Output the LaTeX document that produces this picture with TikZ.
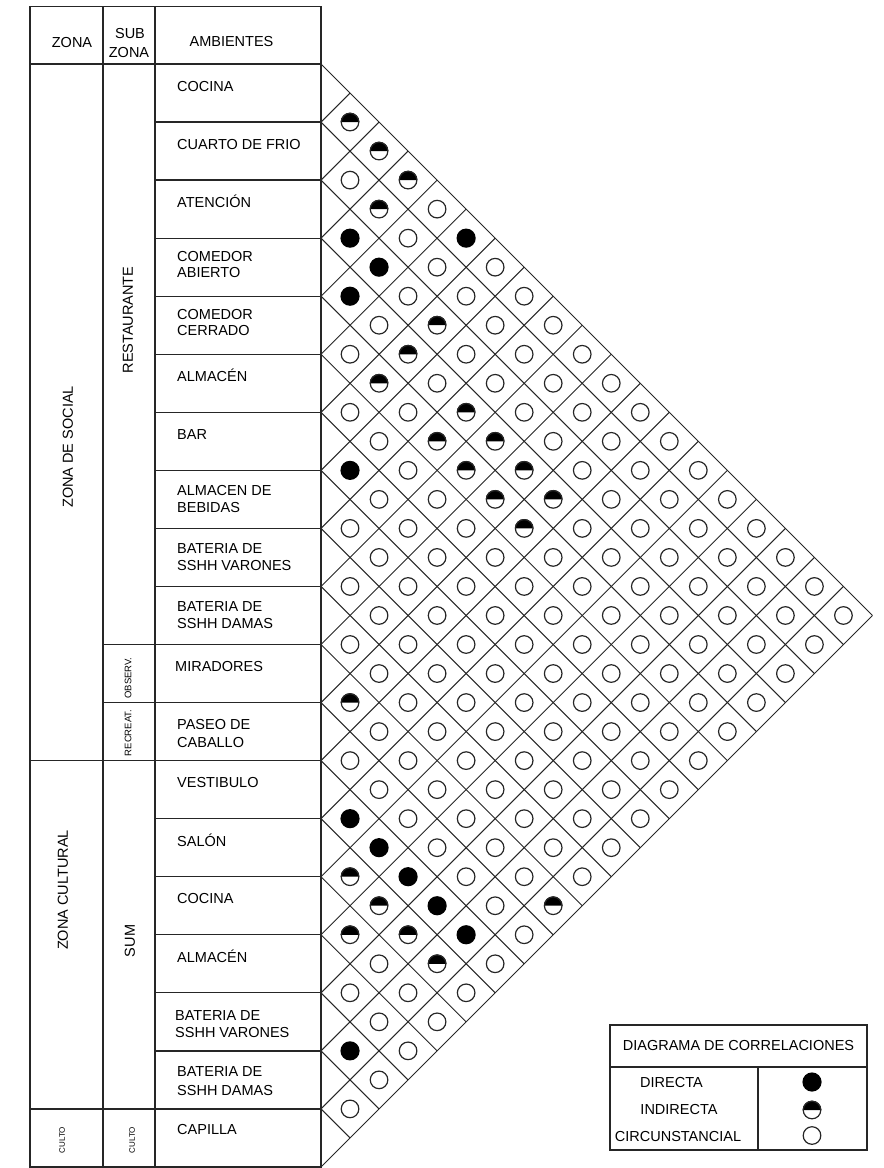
\documentclass[tikz,border=0pt]{standalone}
\usepackage{fontspec}
\setmainfont{Liberation Sans}
\def\defsym#1#2#3{\expandafter\def\csname sym-#1-#2\endcsname{#3}}
\def\symO(#1){\draw[symline] (#1) circle[radius=8.8pt];}
\def\symF(#1){\fill (#1) circle[radius=9.6pt];}
\def\symH(#1){\fill (#1) ++(-9.4pt,0pt) arc[start angle=180,end angle=0,radius=9.4pt] -- cycle; \draw[symline] (#1) circle[radius=8.8pt];}
% exceptions (row i, row j, symbol)
\defsym{0}{1}{\symH}\defsym{0}{2}{\symH}\defsym{0}{3}{\symH}\defsym{1}{3}{\symH}
\defsym{2}{3}{\symF}\defsym{0}{5}{\symF}\defsym{2}{4}{\symF}\defsym{3}{4}{\symF}
\defsym{2}{6}{\symH}\defsym{3}{6}{\symH}\defsym{4}{6}{\symH}\defsym{3}{8}{\symH}
\defsym{4}{8}{\symH}\defsym{3}{9}{\symH}\defsym{6}{7}{\symF}\defsym{4}{9}{\symH}
\defsym{3}{10}{\symH}\defsym{4}{10}{\symH}\defsym{3}{11}{\symH}\defsym{4}{11}{\symH}
\defsym{10}{11}{\symH}\defsym{12}{13}{\symF}\defsym{12}{14}{\symF}\defsym{13}{14}{\symH}
\defsym{12}{15}{\symF}\defsym{13}{15}{\symH}\defsym{12}{16}{\symF}\defsym{10}{18}{\symH}
\defsym{14}{15}{\symH}\defsym{13}{16}{\symH}\defsym{12}{17}{\symF}\defsym{13}{17}{\symH}
\defsym{16}{17}{\symF}
\begin{document}
\begin{tikzpicture}[x=1pt,y=-1pt,
  tline/.style={line width=1.3pt, draw=black!85},
  gline/.style={line width=1pt, draw=black!85},
  symline/.style={line width=1.2pt, draw=black!85},
  lbl/.style={anchor=base west, inner sep=0pt, font=\fontsize{14.5}{17}\selectfont},
  ctr/.style={anchor=base, inner sep=0pt, font=\fontsize{14.5}{17}\selectfont},
  vtxt/.style={rotate=90, inner sep=0pt, font=\fontsize{14.5}{17}\selectfont},
  small/.style={rotate=90, inner sep=0pt, font=\fontsize{9.5}{11}\selectfont},
  tiny/.style={rotate=90, inner sep=0pt, font=\fontsize{8}{9}\selectfont}]
\useasboundingbox (0,0) rectangle (884,1168);
\def\h{58.05}\def\Y{64}\def\X{321}
% ---------- table frame ----------
\draw[tline] (30,6.5) rectangle (\X,1167);
\draw[tline] (103,6.5) -- (103,1167);
\draw[tline] (155,6.5) -- (155,1167);
\draw[tline] (30,\Y) -- (\X,\Y);
\foreach \k in {1,...,9,13,14,15,16,17}
  \draw[tline] (155,\Y+\k*\h) -- (\X,\Y+\k*\h);
\foreach \k in {10,11}
  \draw[tline] (103,\Y+\k*\h) -- (\X,\Y+\k*\h);
\foreach \k in {12,18}
  \draw[tline] (30,\Y+\k*\h) -- (\X,\Y+\k*\h);
% ---------- correlation grid ----------
\foreach \k in {0,...,19}{
  \draw[gline] (\X,\Y+\k*\h) -- (\X+19*\h/2-\k*\h/2, \Y+19*\h/2+\k*\h/2);
  \draw[gline] (\X,\Y+\k*\h) -- (\X+\k*\h/2, \Y+\k*\h/2);
}
% ---------- symbols ----------
\foreach \i in {0,...,17}{
  \pgfmathtruncatemacro\js{\i+1}
  \foreach \j in {\js,...,18}{
    \pgfmathsetmacro\cx{\X+(\j-\i)*\h/2}
    \pgfmathsetmacro\cy{\Y+(\i+\j+1)*\h/2}
    \ifcsname sym-\i-\j\endcsname
      \csname sym-\i-\j\endcsname(\cx,\cy)
    \else
      \symO(\cx,\cy)
    \fi
  }
}
% ---------- header ----------
\node[ctr] (hzona) at (72,47.2) {ZONA};
\node[ctr] (hsub1) at (130,38.5) {SUB};
\node[ctr] (hsub2) at (129,57.5) {ZONA};
\node[ctr] (hamb) at (231.5,46.5) {AMBIENTES};
% ---------- zone / subzone labels ----------
\node[vtxt] (zsocial) at (68,447) {ZONA DE SOCIAL};
\node[vtxt] (zcult) at (63,890) {ZONA CULTURAL};
\node[vtxt] (srest) at (128,320) {RESTAURANTE};
\node[vtxt] (ssum) at (130,941) {SUM};
\node[small] (sobs) at (128,678) {OBSERV.};
\node[small] (srec) at (128,733) {RECREAT.};
\node[tiny] (zculto) at (62,1140) {CULTO};
\node[tiny] (sculto) at (132,1140) {CULTO};
% ---------- ambientes ----------
\node[lbl] (a0) at (177,\Y+0*\h+27) {COCINA};
\node[lbl] (a1) at (177,\Y+1*\h+27) {CUARTO DE FRIO};
\node[lbl] (a2) at (177,\Y+2*\h+27) {ATENCIÓN};
\node[lbl] (a3a) at (177,\Y+3*\h+23) {COMEDOR};
\node[lbl] (a3b) at (177,\Y+3*\h+39) {ABIERTO};
\node[lbl] (a4a) at (177,\Y+4*\h+23) {COMEDOR};
\node[lbl] (a4b) at (177,\Y+4*\h+39) {CERRADO};
\node[lbl] (a5) at (177,\Y+5*\h+27) {ALMACÉN};
\node[lbl] (a6) at (177,\Y+6*\h+27) {BAR};
\node[lbl] (a7a) at (177,\Y+7*\h+25) {ALMACEN DE};
\node[lbl] (a7b) at (177,\Y+7*\h+42) {BEBIDAS};
\node[lbl] (a8a) at (177,\Y+8*\h+25) {BATERIA DE};
\node[lbl] (a8b) at (177,\Y+8*\h+42) {SSHH VARONES};
\node[lbl] (a9a) at (177,\Y+9*\h+25) {BATERIA DE};
\node[lbl] (a9b) at (177,\Y+9*\h+42) {SSHH DAMAS};
\node[lbl] (a10) at (175,\Y+10*\h+27) {MIRADORES};
\node[lbl] (a11a) at (177,\Y+11*\h+27) {PASEO DE};
\node[lbl] (a11b) at (177,\Y+11*\h+45) {CABALLO};
\node[lbl] (a12) at (177,\Y+12*\h+27) {VESTIBULO};
\node[lbl] (a13) at (177,\Y+13*\h+28) {SALÓN};
\node[lbl] (a14) at (177,\Y+14*\h+27) {COCINA};
\node[lbl] (a15) at (177,\Y+15*\h+28) {ALMACÉN};
\node[lbl] (a16a) at (175,\Y+16*\h+28) {BATERIA DE};
\node[lbl] (a16b) at (175,\Y+16*\h+45) {SSHH VARONES};
\node[lbl] (a17a) at (177,\Y+17*\h+26) {BATERIA DE};
\node[lbl] (a17b) at (177,\Y+17*\h+45) {SSHH DAMAS};
\node[lbl] (a18) at (177,\Y+18*\h+26) {CAPILLA};
% ---------- legend ----------
\draw[tline] (610,1025) rectangle (867,1150);
\draw[tline] (610,1067) -- (867,1067);
\draw[tline] (758,1067) -- (758,1150);
\node[ctr] (ltitle) at (738.5,1050.2) {DIAGRAMA DE CORRELACIONES};
\node[ctr] (ldir) at (671.5,1087) {DIRECTA};
\node[ctr] (lind) at (679,1114.3) {INDIRECTA};
\node[ctr] (lcir) at (678,1141.8) {CIRCUNSTANCIAL};
\symF(812,1082)
\symH(812,1110)
\symO(812,1135.5)
\end{tikzpicture}
\end{document}
